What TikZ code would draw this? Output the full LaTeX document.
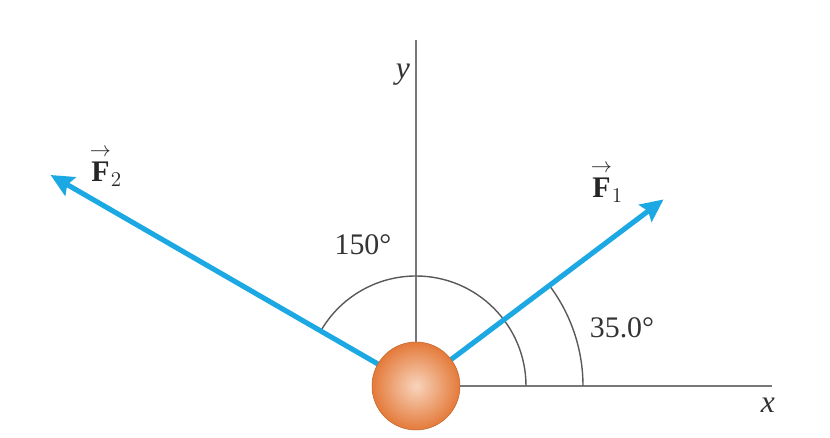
\documentclass[tikz,border=0pt]{standalone}
\usepackage{fontspec}
\usepackage{amsmath}
\setmainfont{Liberation Serif}
\definecolor{ForceBlue}{RGB}{28,168,226}
\definecolor{AxisGray}{RGB}{120,120,120}
\definecolor{BallOrange}{RGB}{228,122,58}
\definecolor{BallLight}{RGB}{248,212,188}
\usetikzlibrary{arrows.meta}

\begin{document}
\begin{tikzpicture}[
  force/.style={ForceBlue,line width=2.9pt,-{Stealth[length=13pt,width=12pt,inset=2pt]}},
  axisline/.style={AxisGray,line width=1.1pt},
  anglearc/.style={black!65,line width=0.8pt},
  lbl/.style={font=\fontsize{17}{19}\selectfont,text=black!80},
  flbl/.style={font=\fontsize{17}{19}\selectfont,text=black!85}]
\useasboundingbox (-8.32,-1.04) rectangle (8.28,7.72);
\coordinate (O) at (0,0);
\coordinate (ytop) at (0,6.92);
\coordinate (xend) at (7.12,0);
\coordinate (tipone) at (37:6.2);
\coordinate (tiptwo) at (150:8.44);
% axes
\draw[axisline] (O) -- (ytop);
\draw[axisline] (O) -- (xend);
% angle arcs
\draw[anglearc] (2.2,0) arc[start angle=0,end angle=150,radius=2.2];
\draw[anglearc] (3.34,0) arc[start angle=0,end angle=37,radius=3.34];
% forces
\draw[force] (O) -- (tipone);
\draw[force] (O) -- (tiptwo);
% particle
\shade[inner color=BallLight,outer color=BallOrange] (O) circle[radius=0.88];
\draw[BallOrange!85!black,line width=0.3pt] (O) circle[radius=0.88];
% labels
\node[lbl,font=\fontsize{18}{20}\selectfont\itshape] (ylbl) at (-0.26,6.22) {y};
\node[lbl,font=\fontsize{18}{20}\selectfont\itshape] (xlbl) at (7.04,-0.38) {x};
\node[lbl] (angtwo) at (-1.06,2.82) {150°};
\node[lbl] (angone) at (4.12,1.16) {35.0°};
\node[flbl] (ftwo) at (-6.2,4.4) {$\overset{\rightarrow}{\mathbf{F}}_2$};
\node[flbl] (fone) at (3.82,4.08) {$\overset{\rightarrow}{\mathbf{F}}_1$};
\end{tikzpicture}
\end{document}
